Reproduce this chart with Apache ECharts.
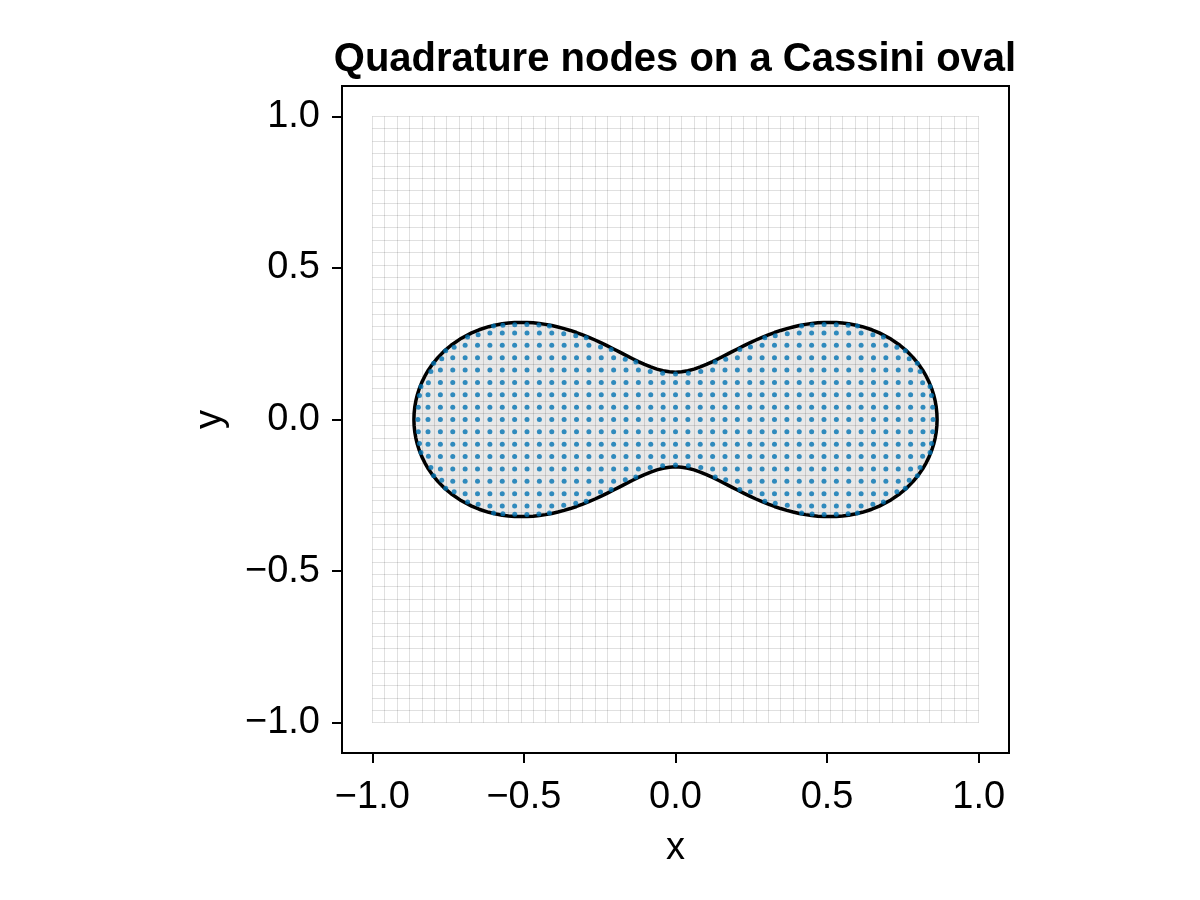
<!DOCTYPE html>
<html>
<head>
<meta charset="utf-8">
<title>Quadrature nodes on a Cassini oval</title>
<script src="https://cdn.jsdelivr.net/npm/echarts@6/dist/echarts.min.js"></script>
<style>
  html, body { margin: 0; padding: 0; background: #fff; }
  #chart { width: 1200px; height: 900px; }
</style>
</head>
<body>
<div id="chart"></div>
<script>
// upper-right quarter of the oval outline, right tip -> top of the waist
const outlineX = [0.8628, 0.8621, 0.8600, 0.8565, 0.8515, 0.8450, 0.8368, 0.8268, 0.8149, 0.8007,
  0.7840, 0.7641, 0.7401, 0.7107, 0.6724, 0.6478, 0.6161, 0.5918, 0.5714, 0.5510,
  0.5306, 0.5102, 0.4898, 0.4694, 0.4490, 0.4286, 0.4082, 0.3878, 0.3673, 0.3469,
  0.3265, 0.3061, 0.2857, 0.2653, 0.2449, 0.2245, 0.2041, 0.1837, 0.1633, 0.1429,
  0.1224, 0.1020, 0.0816, 0.0612, 0.0408, 0.0204, 0];
const outlineY = [0, 0.0204, 0.0408, 0.0612, 0.0816, 0.1020, 0.1224, 0.1429, 0.1633, 0.1837,
  0.2041, 0.2245, 0.2449, 0.2653, 0.2857, 0.2959, 0.3061, 0.3119, 0.3155, 0.3181,
  0.3197, 0.3203, 0.3200, 0.3188, 0.3166, 0.3137, 0.3099, 0.3053, 0.2999, 0.2937,
  0.2869, 0.2793, 0.2710, 0.2622, 0.2528, 0.2429, 0.2327, 0.2222, 0.2116, 0.2012,
  0.1911, 0.1817, 0.1733, 0.1661, 0.1607, 0.1574, 0.1562];

// background mesh: 49 x 49 cells over [-1, 1]
const cellSize = 2 / 49;

// cells fully inside the oval (first quadrant): row index, first and last column
const fullRow  = [0, 1, 2, 3, 4, 5, 6, 7];
const fullFrom = [0, 0, 0, 0, 3, 5, 7, 10];
const fullTo   = [20, 20, 20, 19, 19, 18, 17, 15];

// nodes of the cut cells along the boundary (first quadrant)
const cutX = [0.8496, 0.8482, 0.8445, 0.8151, 0.8396, 0, 0.0424, 0.0833, 0.8069, 0.1310,
  0.1657, 0.7710, 0.7976, 0.2122, 0.2473, 0.7302, 0.7580, 0.2947, 0.3290, 0.3686,
  0.6857, 0.6510, 0.4159, 0.4506, 0.4902, 0.5302, 0.5694, 0.6000];
const cutY = [0, 0.0400, 0.0788, 0.1216, 0.1090, 0.1498, 0.1522, 0.1584, 0.1584, 0.1894,
  0.1984, 0.2000, 0.1857, 0.2306, 0.2392, 0.2380, 0.2269, 0.2698, 0.2763, 0.2829,
  0.2718, 0.2796, 0.3086, 0.3114, 0.3131, 0.3127, 0.3110, 0.3082];

const tickValues = [-1, -0.5, 0, 0.5, 1];

// the oval is symmetric in x and y, so mirror the quarter data
const n = outlineX.length;
const ring = [];
for (let k = 0; k < n; k++) ring.push([outlineX[k], outlineY[k]]);
for (let k = n - 2; k >= 0; k--) ring.push([-outlineX[k], outlineY[k]]);
for (let k = 1; k < n; k++) ring.push([-outlineX[k], -outlineY[k]]);
for (let k = n - 2; k > 0; k--) ring.push([outlineX[k], -outlineY[k]]);

const nodes = [];
const seen = new Set();
function addNode(x, y) {
  for (const sx of [1, -1]) {
    for (const sy of [1, -1]) {
      const px = sx * x, py = sy * y;
      const key = px.toFixed(4) + ',' + py.toFixed(4);
      if (!seen.has(key)) { seen.add(key); nodes.push([px, py]); }
    }
  }
}
fullRow.forEach((j, r) => {
  for (let i = fullFrom[r]; i <= fullTo[r]; i++) addNode(i * cellSize, j * cellSize);
});
cutX.forEach((x, k) => addNode(x, cutY[k]));

const font = 'Liberation Sans, Arial, Helvetica, sans-serif';
const fmt = v => (v < 0 ? '\u2212' : '') + Math.abs(v).toFixed(1);

const chart = echarts.init(document.getElementById('chart'));

const option = {
  animation: false,
  backgroundColor: '#fff',
  title: {
    text: 'Quadrature nodes on a Cassini oval',
    left: 670,
    top: 35,
    textAlign: 'center',
    textStyle: { fontFamily: font, fontSize: 40, fontWeight: 'bold', color: '#000' }
  },
  grid: [
    { left: 342, top: 86, width: 667, height: 667, show: true,
      borderColor: '#000', borderWidth: 2, backgroundColor: 'transparent' },
    // mesh area [-1, 1] x [-1, 1]
    { left: 372.3, top: 116.3, width: 606.4, height: 606.4 }
  ],
  xAxis: [
    {
      type: 'value', gridIndex: 0, min: -1.1, max: 1.1,
      name: 'x', nameLocation: 'middle', nameGap: 77,
      nameTextStyle: { fontFamily: font, fontSize: 38, color: '#000' },
      axisLine: { show: false, onZero: false },
      axisTick: { show: true, inside: false, length: 10, customValues: tickValues,
        lineStyle: { color: '#000', width: 2 } },
      axisLabel: { customValues: tickValues, formatter: fmt, margin: 26,
        fontFamily: font, fontSize: 38, color: '#000' },
      splitLine: { show: false }
    },
    {
      type: 'value', gridIndex: 1, min: -1, max: 1, interval: cellSize,
      axisLine: { show: false, onZero: false }, axisTick: { show: false }, axisLabel: { show: false },
      splitLine: { show: true, lineStyle: { color: 'rgba(0,0,0,0.12)', width: 1 } }
    }
  ],
  yAxis: [
    {
      type: 'value', gridIndex: 0, min: -1.1, max: 1.1,
      name: 'y', nameLocation: 'middle', nameGap: 112, nameRotate: 90,
      nameTextStyle: { fontFamily: font, fontSize: 38, color: '#000' },
      axisLine: { show: false, onZero: false },
      axisTick: { show: true, inside: false, length: 10, customValues: tickValues,
        lineStyle: { color: '#000', width: 2 } },
      axisLabel: { customValues: tickValues, formatter: fmt, margin: 22,
        fontFamily: font, fontSize: 38, color: '#000' },
      splitLine: { show: false }
    },
    {
      type: 'value', gridIndex: 1, min: -1, max: 1, interval: cellSize,
      axisLine: { show: false, onZero: false }, axisTick: { show: false }, axisLabel: { show: false },
      splitLine: { show: true, lineStyle: { color: 'rgba(0,0,0,0.12)', width: 1 } }
    }
  ],
  series: [
    {
      type: 'custom',
      xAxisIndex: 0, yAxisIndex: 0,
      data: [[0, 0]],
      z: 2,
      silent: true,
      renderItem: (params, api) => ({
        type: 'polygon',
        shape: { points: ring.map(p => api.coord(p)) },
        style: { fill: 'rgba(0,0,0,0.09)', stroke: '#000', lineWidth: 3.5, lineJoin: 'round' }
      })
    },
    {
      type: 'scatter',
      xAxisIndex: 0, yAxisIndex: 0,
      data: nodes,
      symbol: 'circle',
      symbolSize: 5,
      z: 3,
      itemStyle: { color: '#0072b2' }
    }
  ]
};

chart.setOption(option);
</script>
</body>
</html>
